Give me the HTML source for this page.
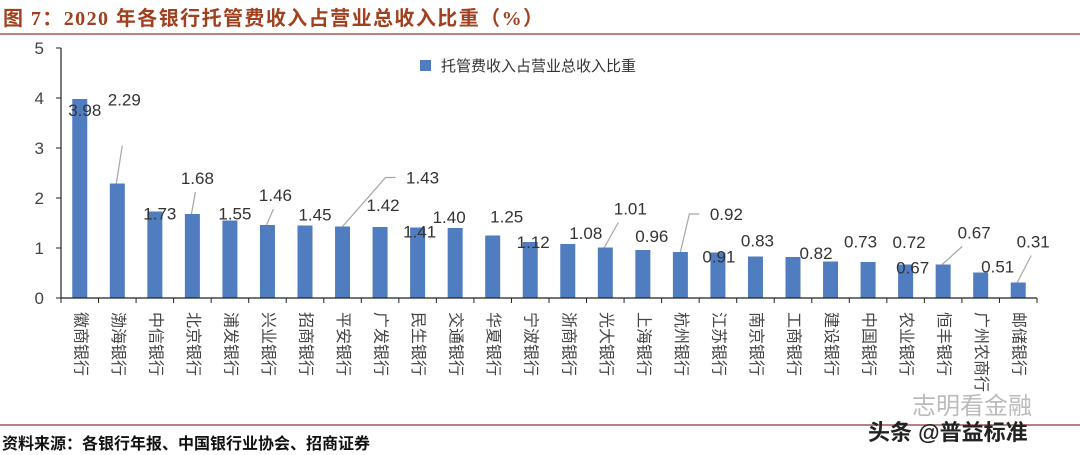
<!DOCTYPE html>
<html><head><meta charset="utf-8">
<style>
body{margin:0;width:1080px;height:455px;background:#fff;overflow:hidden;font-family:"Liberation Sans","Noto Sans CJK SC",sans-serif;}
svg{display:block}
</style></head>
<body>
<svg id="chart" width="1080" height="455" xmlns="http://www.w3.org/2000/svg">
<text x="3" y="25" font-family="Liberation Serif,'Noto Sans CJK SC',sans-serif" font-weight="bold" font-size="20" fill="#a0401e" textLength="540" lengthAdjust="spacing">图 7：2020 年各银行托管费收入占营业总收入比重（%）</text>
<line x1="0" y1="34" x2="1080" y2="34" stroke="#a05a50" stroke-width="1.5"/>
<g id="plot"></g>
<rect x="420" y="60" width="11" height="11" fill="#4f7dbf"/>
<text x="441" y="71" font-size="15" fill="#333">托管费收入占营业总收入比重</text>
<text x="912" y="414" font-size="24" fill="#bbb">志明看金融</text>
<line x1="0" y1="425" x2="1080" y2="425" stroke="#a05a50" stroke-width="1.5"/>
<text x="2" y="449" font-size="16" font-weight="bold" fill="#111">资料来源：各银行年报、中国银行业协会、招商证券</text>
<text x="868" y="440" font-size="22" font-weight="bold" fill="#222">头条 @普益标准</text>
</svg>
<script>
const categories=["徽商银行","渤海银行","中信银行","北京银行","浦发银行","兴业银行","招商银行","平安银行","广发银行","民生银行","交通银行","华夏银行","宁波银行","浙商银行","光大银行","上海银行","杭州银行","江苏银行","南京银行","工商银行","建设银行","中国银行","农业银行","恒丰银行","广州农商行","邮储银行"];
const values=[3.98,2.29,1.73,1.68,1.55,1.46,1.45,1.43,1.42,1.41,1.40,1.25,1.12,1.08,1.01,0.96,0.92,0.91,0.83,0.82,0.73,0.72,0.67,0.67,0.51,0.31];
const valueLabels=["3.98","2.29","1.73","1.68","1.55","1.46","1.45","1.43","1.42","1.41","1.40","1.25","1.12","1.08","1.01","0.96","0.92","0.91","0.83","0.82","0.73","0.72","0.67","0.67","0.51","0.31"];
const yTicks=[0,1,2,3,4,5];
// label placement offsets relative to bar top (layout only)
const labelOffsets=[[5,11],[7,-84],[5,2],[5,-36],[5,-7],[8,-30],[10,-11],[80,-49],[3,-22],[2,4],[-6,-11],[14,-19],[3,0],[18,-11],[25,-39],[9,-14],[46,-38],[1,4],[2,-16],[23,-4],[30,-20],[41,-20],[7,3],[31,-32],[17,-6],[15,-41]];
const leaders=[null,'s',null,'s',null,'s',null,'e',null,null,null,null,null,null,'s',null,'e',null,null,null,null,null,null,'s',null,'s'];

const NS="http://www.w3.org/2000/svg";
const g=document.getElementById('plot');
const x0=61,x1=1037,yBase=298,yTop=48,yMax=5;
const band=(x1-x0)/categories.length;
const yS=v=>yBase-(v/yMax)*(yBase-yTop);
const xC=i=>x0+band*(i+0.5);
function mk(t,a){const e=document.createElementNS(NS,t);for(const k in a)e.setAttribute(k,a[k]);g.appendChild(e);return e;}

let ax=mk('line',{x1:x0,y1:yTop,x2:x0,y2:yBase,stroke:'#222','stroke-width':1.2});


yTicks.forEach(t=>{
  const l=mk('line',{x1:x0-5,y1:yS(t),x2:x0,y2:yS(t),stroke:'#222'});
  
  
  const tx=mk('text',{x:x0-17,y:yS(t)+6,'font-size':17,fill:'#444','text-anchor':'end'});
  tx.textContent=t;
  
  
});
values.forEach((v,i)=>{
  const c=xC(i),top=yS(v);
  const b=mk('rect',{x:c-7.5,y:top,width:15,height:yBase-top,fill:'#4f7dbf'});
  
  
  const lx=c+labelOffsets[i][0],ly=top+labelOffsets[i][1];
  if(leaders[i]==='s'){
    const dx=labelOffsets[i][0];
    const ex=dx>20?lx-12:lx-2;
    const ey=(i===1)?ly+46:ly+14;
    const ln=mk('line',{x1:c-1,y1:top,x2:ex,y2:ey,stroke:'#a6a6a6','stroke-width':1.2});
    
    
  } else if(leaders[i]==='e'){
    const pl=mk('polyline',{points:`${c},${top} ${lx-37},${ly} ${lx-27},${ly}`,fill:'none',stroke:'#a6a6a6','stroke-width':1.2});
    
    
  }
  const t=mk('text',{x:lx,y:ly+6,'font-size':17,fill:'#333','text-anchor':'middle'});
  t.textContent=valueLabels[i];
  
  
  const ct=mk('text',{x:0,y:0,'font-size':16,fill:'#444','text-anchor':'start','dominant-baseline':'central',transform:`translate(${c},312) rotate(90)`});
  ct.textContent=categories[i];
  
  
});
for(let i=0;i<=categories.length;i++){
  const x=x0+band*i;
  const tk=mk('line',{x1:x,y1:yBase,x2:x,y2:yBase+5,stroke:'#222'});
  
  
}
ax=mk('line',{x1:x0,y1:yBase,x2:x1,y2:yBase,stroke:'#222','stroke-width':1.2});


</script>
</body></html>
